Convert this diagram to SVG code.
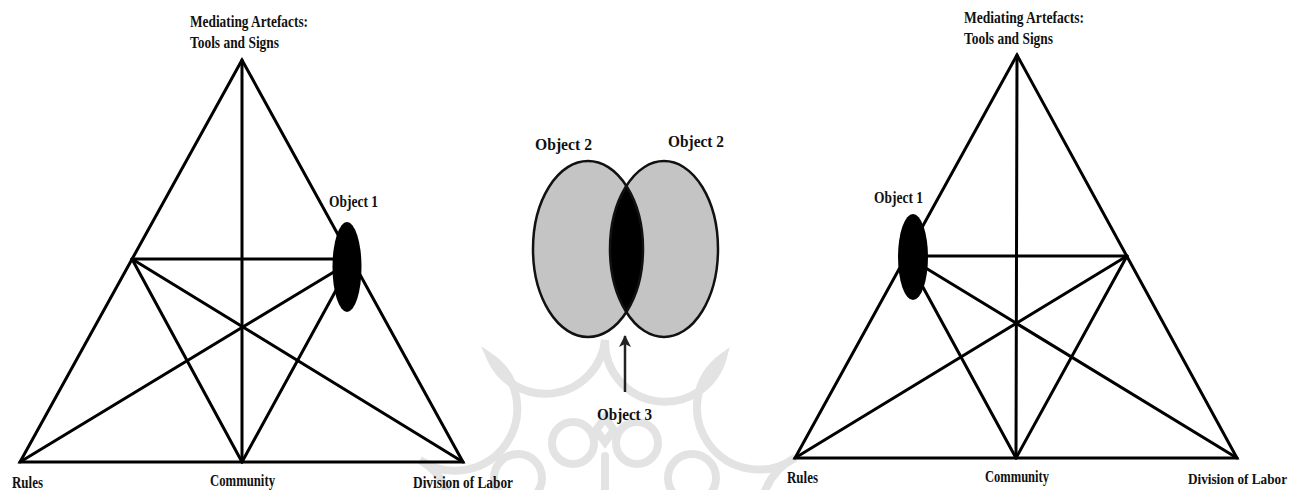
<svg xmlns="http://www.w3.org/2000/svg" width="1296" height="490" viewBox="0 0 1296 490">
  <defs>
    <style>
      .edge { stroke: #000; stroke-width: 3; stroke-linecap: round; fill: none; }
      .lbl { font-family: "Liberation Serif", "Times New Roman", serif; font-weight: bold; font-size: 17px; fill: #111; }
      .obj { fill: #000; }
      .set { fill: #c4c4c4; }
      .outline { fill: none; stroke: #111; stroke-width: 2.5; }
      .mark { fill: none; stroke: #e3e3e3; stroke-width: 8; stroke-linecap: round; }
    </style>
    <marker id="head" viewBox="0 0 12 12" refX="11" refY="6" markerWidth="12" markerHeight="12" markerUnits="userSpaceOnUse" orient="auto">
      <path d="M0,0 L12,6 L0,12 L3,6 Z" fill="#222"/>
    </marker>
    <clipPath id="clip-right-set">
      <ellipse cx="664" cy="249" rx="54" ry="88"/>
    </clipPath>
  </defs>

  <rect width="1296" height="490" fill="#fff"/>

  <!-- faint background emblem -->
  <g id="emblem">
    <path class="mark" d="M380,575 A 62 62 0 0 0 420,460 A 62 62 0 0 0 490,357 A 60 60 0 0 0 605,340 A 60 60 0 0 0 723,357 A 62 62 0 0 0 795,458 A 62 62 0 0 0 830,575"/>
    <circle class="mark" cx="573" cy="443" r="21" stroke-width="7"/>
    <circle class="mark" cx="637" cy="443" r="21" stroke-width="7"/>
    <circle class="mark" cx="518" cy="478" r="24" stroke-width="7"/>
    <circle class="mark" cx="692" cy="478" r="24" stroke-width="7"/>
    <path class="mark" d="M605,418 L614,430 L605,442 L596,430 Z" stroke-width="5"/>
    <path class="mark" d="M605,456 L605,490" stroke-width="6"/>
  </g>

  <!-- left activity system -->
  <g id="left-system">
    <g id="left-connectors">
      <polygon class="edge" points="242,60 20,462 463,462"/>
      <line class="edge" x1="242" y1="60" x2="242" y2="462"/>
      <line class="edge" x1="132" y1="259" x2="352" y2="259"/>
      <line class="edge" x1="132" y1="259" x2="463" y2="462"/>
      <line class="edge" x1="132" y1="259" x2="242" y2="462"/>
      <line class="edge" x1="352" y1="261" x2="20" y2="462"/>
      <line class="edge" x1="352" y1="261" x2="242" y2="462"/>
    </g>
    <g id="left-tools">
      <text class="lbl" x="190" y="27" textLength="118" lengthAdjust="spacingAndGlyphs">Mediating Artefacts:</text>
      <text class="lbl" x="190" y="48" textLength="89" lengthAdjust="spacingAndGlyphs">Tools and Signs</text>
    </g>
    <g id="left-object1">
      <ellipse class="obj" cx="347" cy="267" rx="14.5" ry="45"/>
      <text class="lbl" x="329" y="207" textLength="49" lengthAdjust="spacingAndGlyphs">Object 1</text>
    </g>
    <g id="left-rules"><text class="lbl" x="12" y="488" textLength="31" lengthAdjust="spacingAndGlyphs">Rules</text></g>
    <g id="left-community"><text class="lbl" x="210" y="486" textLength="65" lengthAdjust="spacingAndGlyphs">Community</text></g>
    <g id="left-division"><text class="lbl" x="413" y="488" textLength="100" lengthAdjust="spacingAndGlyphs">Division of Labor</text></g>
  </g>

  <!-- shared objects in the middle -->
  <g id="shared-objects">
    <g id="object2-left">
      <ellipse class="set" cx="588" cy="249" rx="55" ry="88"/>
      <text class="lbl" x="535" y="150" textLength="57" lengthAdjust="spacingAndGlyphs">Object 2</text>
    </g>
    <g id="object2-right">
      <ellipse class="set" cx="664" cy="249" rx="54" ry="88"/>
      <text class="lbl" x="668" y="147" textLength="56" lengthAdjust="spacingAndGlyphs">Object 2</text>
    </g>
    <g id="object3">
      <ellipse cx="588" cy="249" rx="55" ry="88" fill="#000" clip-path="url(#clip-right-set)"/>
      <text class="lbl" x="597" y="420" textLength="55" lengthAdjust="spacingAndGlyphs">Object 3</text>
    </g>
    <ellipse class="outline" cx="588" cy="249" rx="55" ry="88"/>
    <ellipse class="outline" cx="664" cy="249" rx="54" ry="88"/>
    <g id="middle-connectors">
      <line x1="625" y1="392" x2="625" y2="336" stroke="#222" stroke-width="2.5" marker-end="url(#head)"/>
    </g>
  </g>

  <!-- right activity system -->
  <g id="right-system">
    <g id="right-connectors">
      <polygon class="edge" points="1017,55 795,458 1237,458"/>
      <line class="edge" x1="1017" y1="55" x2="1016" y2="458"/>
      <line class="edge" x1="906" y1="256" x2="1127" y2="256"/>
      <line class="edge" x1="906" y1="256" x2="1237" y2="458"/>
      <line class="edge" x1="906" y1="256" x2="1016" y2="458"/>
      <line class="edge" x1="1127" y1="256" x2="795" y2="458"/>
      <line class="edge" x1="1127" y1="256" x2="1016" y2="458"/>
    </g>
    <g id="right-tools">
      <text class="lbl" x="964" y="23" textLength="120" lengthAdjust="spacingAndGlyphs">Mediating Artefacts:</text>
      <text class="lbl" x="964" y="44" textLength="89" lengthAdjust="spacingAndGlyphs">Tools and Signs</text>
    </g>
    <g id="right-object1">
      <ellipse class="obj" cx="913" cy="257" rx="15" ry="43"/>
      <text class="lbl" x="874" y="203" textLength="49" lengthAdjust="spacingAndGlyphs">Object 1</text>
    </g>
    <g id="right-rules"><text class="lbl" x="787" y="483" textLength="31" lengthAdjust="spacingAndGlyphs">Rules</text></g>
    <g id="right-community"><text class="lbl" x="985" y="482" textLength="64" lengthAdjust="spacingAndGlyphs">Community</text></g>
    <g id="right-division"><text class="lbl" x="1188" y="484" style="font-size:14.5px" textLength="99" lengthAdjust="spacingAndGlyphs">Division of Labor</text></g>
  </g>
</svg>
